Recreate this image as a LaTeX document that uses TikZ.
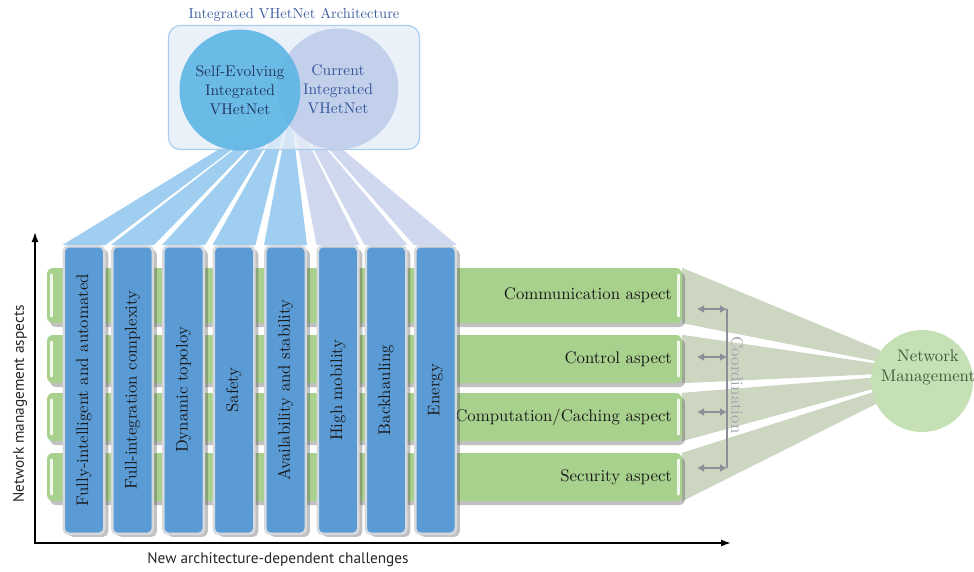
\documentclass[tikz,border=0pt]{standalone}
\usepackage{fontspec}
\usepackage{graphicx}
\setmainfont{lmroman10-regular.otf}
\newfontfamily\axisfont{PT Sans}
\usetikzlibrary{shadows,arrows.meta}
\pgfdeclarelayer{background}
\pgfsetlayers{background,main}
\definecolor{colblue}{HTML}{5B9BD5}
\definecolor{rimgray}{HTML}{D6DADF}
\definecolor{rowgreen}{HTML}{A9D18E}
\definecolor{fangreen}{HTML}{CDD6C1}
\definecolor{nmgreen}{HTML}{C5E0B4}
\definecolor{nmtext}{HTML}{3F5A3C}
\definecolor{rayblue}{HTML}{9FCEF0}
\definecolor{raylav}{HTML}{CFD8EE}
\definecolor{boxfill}{HTML}{E5EDF8}
\definecolor{boxline}{HTML}{A9CDEE}
\definecolor{selfblue}{HTML}{5AB4E4}
\definecolor{selftext}{HTML}{22375F}
\definecolor{curlav}{HTML}{C0CDEA}
\definecolor{curtext}{HTML}{34569A}
\definecolor{titleblue}{HTML}{3D5E9E}
\definecolor{coordgray}{HTML}{8E8E98}
\definecolor{coordtext}{HTML}{A2A2AC}
\tikzset{
  challenge/.style={minimum width=40.5pt, minimum height=287.5pt, inner sep=0pt,
    fill=colblue, draw=rimgray, line width=2.5pt, rounded corners=5pt,
    drop shadow={shadow xshift=4pt, shadow yshift=-3pt, opacity=.35, fill=black!70},
    text=black!90, font=\fontsize{16.8}{19}\selectfont},
  aspect/.style={minimum width=635pt, inner xsep=10pt, text width=615pt, align=right,
    fill=rowgreen, rounded corners=6pt,
    drop shadow={shadow xshift=3pt, shadow yshift=-4pt, opacity=.35, fill=black!70},
    text=black!90, font=\fontsize{16.8}{19}\selectfont},
  gloss/.style={white, line width=3pt, line cap=round, opacity=.85},
  coordarrow/.style={coordgray, line width=2.2pt, {Latex[length=7pt,width=8pt]}-{Latex[length=7pt,width=8pt]}},
  axis/.style={line width=1.6pt, -{Latex[length=10pt,width=7pt]}}
}
\begin{document}
\begin{tikzpicture}[x=1pt, y=-1pt]
\useasboundingbox (0,0) rectangle (974,571);
\node[text=titleblue, font=\fontsize{14.5}{17}\selectfont] (title) at (294,15) {Integrated VHetNet Architecture};
\node[draw=boxline, fill=boxfill, fill opacity=.8, line width=1.2pt, rounded corners=12pt,
  minimum width=251pt, minimum height=124pt] (arch) at (294,87.5) {};
\node[circle, fill=curlav, fill opacity=.9, text opacity=1, minimum size=121pt, text=curtext,
  align=center, font=\fontsize{15.5}{19}\selectfont] (cur) at (338,89) {Current\\Integrated\\VHetNet};
\node[circle, fill=selfblue, fill opacity=.88, text opacity=1, minimum size=121pt, text=selftext,
  align=center, font=\fontsize{15.5}{19}\selectfont] (self) at (240,90) {Self-Evolving\\Integrated\\VHetNet};

\node[aspect, minimum height=55pt] (a1) at (364.5,295.5) {Communication aspect};
\node[aspect, minimum height=48pt] (a2) at (364.5,359) {Control aspect};
\node[aspect, minimum height=48pt] (a3) at (364.5,417) {Computation/Caching aspect};
\node[aspect, minimum height=48pt] (a4) at (364.5,477) {Security aspect};
\foreach \i in {1,...,4} {
  \draw[gloss] ([xshift=5pt,yshift=-7pt]a\i.north west) -- ([xshift=5pt,yshift=7pt]a\i.south west);
  \draw[gloss] ([xshift=-4pt,yshift=-7pt]a\i.north east) -- ([xshift=-4pt,yshift=7pt]a\i.south east);
}

\node[challenge] (c1) at (84,390) {\rotatebox{90}{Fully-intelligent and automated}};
\node[challenge] (c2) at (132.5,390) {\rotatebox{90}{Full-integration complexity}};
\node[challenge] (c3) at (183.5,390) {\rotatebox{90}{Dynamic topoloy}};
\node[challenge] (c4) at (234,390) {\rotatebox{90}{Safety}};
\node[challenge] (c5) at (285.5,390) {\rotatebox{90}{Availability and stability}};
\node[challenge] (c6) at (338,390) {\rotatebox{90}{High mobility}};
\node[challenge] (c7) at (386,390) {\rotatebox{90}{Backhauling}};
\node[challenge] (c8) at (435.5,390) {\rotatebox{90}{Energy}};

\node[circle, fill=nmgreen, minimum size=102pt] (nm) at (922,381) {};
\node[text=nmtext, align=center, font=\fontsize{16.8}{20}\selectfont] (nmlabel) at (928,367) {Network\\Management};

\begin{pgfonlayer}{background}
\foreach \i/\c in {1/rayblue,2/rayblue,3/rayblue,4/rayblue,5/rayblue,6/raylav,7/raylav,8/raylav}
  \fill[\c] ({265.5+4.5*\i},118) -- ({269+4.5*\i},118) -- (c\i.north east) -- (c\i.north west) -- cycle;
\foreach \i/\t/\b in {1/350/362,2/364/374,3/377/387,4/390/402}
  \fill[fangreen] (a\i.north east) -- (880,\t) -- (880,\b) -- (a\i.south east) -- cycle;
\end{pgfonlayer}

\foreach \i/\y in {1/309,2/357,3/412,4/468} {
  \coordinate (h\i) at (697,\y);
  \coordinate (k\i) at (727,\y);
  \draw[coordarrow] (h\i) -- (k\i);
}
\draw[coordgray, line width=2pt] (k1) -- (k4);
\node[rotate=-90, text=coordtext, font=\fontsize{16.8}{19}\selectfont] (coordlabel) at (737,385) {Coordination};

\coordinate (o) at (35,543);
\coordinate (ytip) at (35,232);
\coordinate (xtip) at (731,543);
\draw[axis, line cap=rect] (o) -- (ytip);
\draw[axis, line cap=rect] (o) -- (xtip);
\node[rotate=90, text=black!85, font=\axisfont\fontsize{15.3}{17}\selectfont] (ylab) at (20,404) {Network management aspects};
\node[text=black!85, font=\axisfont\fontsize{15.3}{17}\selectfont] (xlab) at (278,560) {New architecture-dependent challenges};
\end{tikzpicture}
\end{document}
